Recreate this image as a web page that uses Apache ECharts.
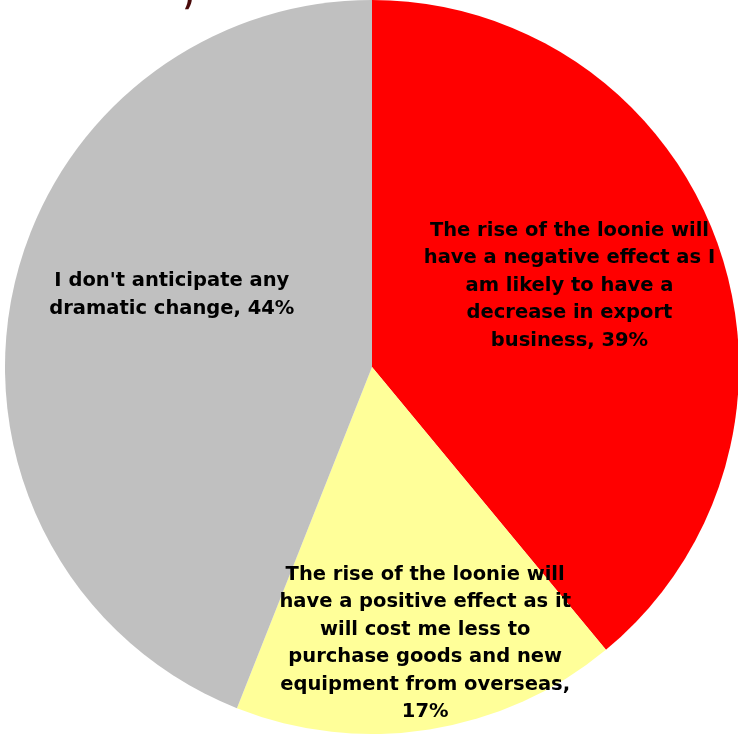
<!DOCTYPE html>
<html>
<head>
<meta charset="utf-8">
<script src="https://cdn.jsdelivr.net/npm/echarts@6/dist/echarts.min.js"></script>
<style>
  html, body { margin: 0; padding: 0; background: #ffffff; }
  #chart { width: 738px; height: 734px; }
</style>
</head>
<body>
<div id="chart"></div>
<script>
// Survey responses: effect of the rising Canadian dollar
const categories = [
  "The rise of the loonie will\nhave a negative effect as I\nam likely to have a\ndecrease in export\nbusiness",
  "The rise of the loonie will\nhave a positive effect as it\nwill cost me less to\npurchase goods and new\nequipment from overseas,",
  "I don't anticipate any\ndramatic change"
];
const shares = [39, 17, 44];
const sliceColors = ["#FF0000", "#FFFF99", "#C0C0C0"];
// label nudges away from the default inside position
const labelShiftX = [22, 24, -17];
const labelShiftY = [-18, 92, -37];

const chart = echarts.init(document.getElementById('chart'), null, { renderer: 'canvas' });

const data = categories.map((name, i) => ({
  name: name,
  value: shares[i],
  itemStyle: { color: sliceColors[i] }
}));

chart.setOption({
  animation: false,
  backgroundColor: '#ffffff',
  graphic: [{
    type: 'text',
    left: 183,
    top: -12,
    style: {
      text: ')',
      fill: '#4a0a0a',
      font: 'bold 24px "DejaVu Sans"'
    }
  }],
  series: [{
    type: 'pie',
    center: [372, 367],
    radius: [0, 367],
    startAngle: 90,
    clockwise: true,
    avoidLabelOverlap: false,
    itemStyle: { borderWidth: 0 },
    label: {
      show: true,
      position: 'inside',
      color: '#000000',
      fontFamily: '"DejaVu Sans", Verdana, sans-serif',
      fontWeight: 'bold',
      fontSize: 19.5,
      lineHeight: 27.5,
      align: 'center',
      formatter: function (p) {
        const sep = p.name.endsWith(',') ? '\n' : ', ';
        return p.name + sep + p.value + '%';
      }
    },
    labelLine: { show: false },
    labelLayout: function (params) {
      return { dx: labelShiftX[params.dataIndex], dy: labelShiftY[params.dataIndex] };
    },
    emphasis: { disabled: true },
    data: data
  }]
});
</script>
</body>
</html>
